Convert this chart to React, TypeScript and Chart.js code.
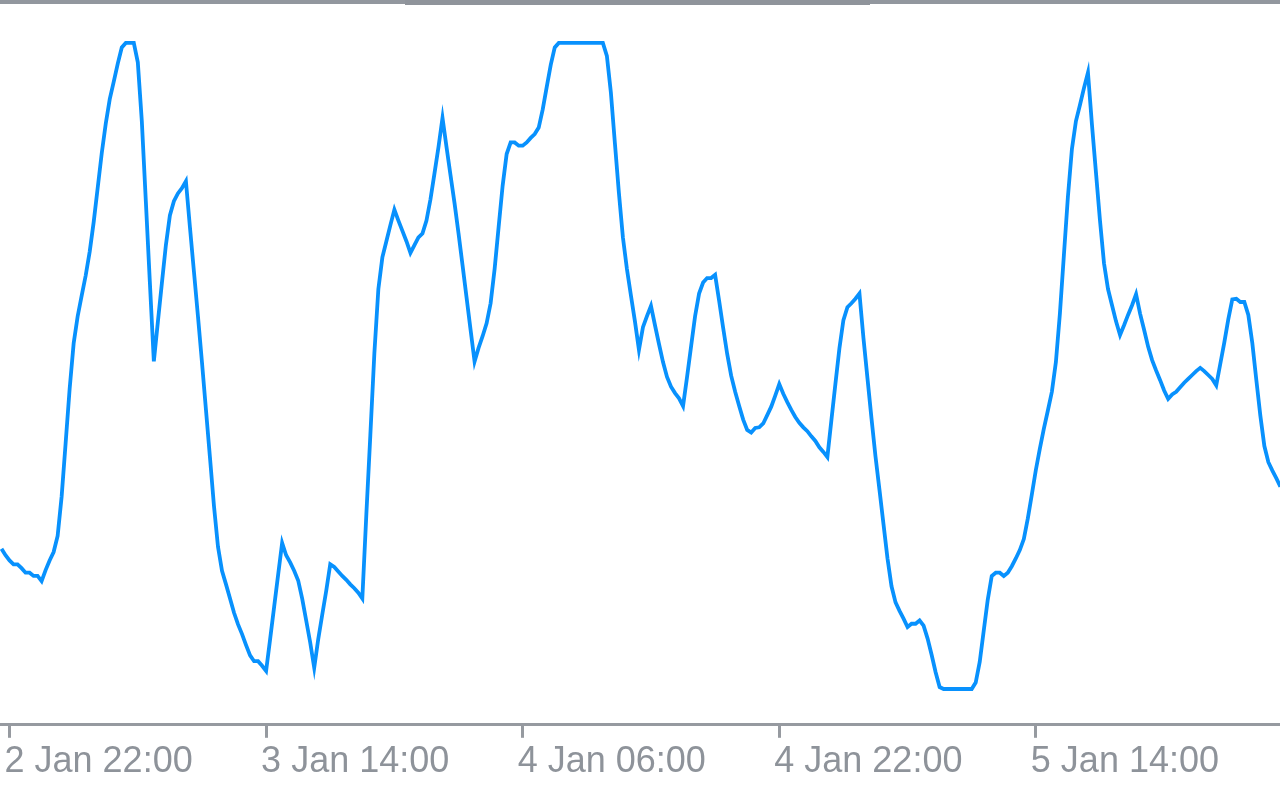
import React, { useEffect, useRef } from "react";
import { Chart, registerables } from "chart.js";

Chart.register(...registerables);

// Oscillator value per 15-minute bar (0..100)
const oscValues: number[] = [
  21.7, 20.7, 19.9, 19.3, 19.3, 18.7, 18.0, 18.0, 17.5, 17.5,
  16.7, 18.4, 19.9, 21.2, 23.7, 29.8, 38.1, 46.5, 53.5, 57.7,
  60.9, 64.0, 67.7, 72.3, 77.6, 82.9, 87.5, 91.3, 94.0, 96.8,
  99.3, 100, 100, 100, 97.0, 87.9, 75.5, 63.0, 50.7, 56.8,
  62.8, 68.7, 73.3, 75.5, 76.7, 77.5, 78.6, 71.5, 64.6, 57.7,
  50.6, 43.2, 35.8, 28.3, 22.0, 18.3, 16.2, 14.0, 11.8, 10.0,
  8.5, 6.8, 5.2, 4.3, 4.3, 3.6, 2.8, 7.7, 12.7, 17.7,
  22.6, 20.7, 19.6, 18.3, 16.8, 14.0, 10.6, 7.2, 3.3, 7.7,
  11.5, 15.2, 19.3, 18.9, 18.2, 17.5, 16.9, 16.2, 15.6, 14.9,
  14.0, 27.0, 39.3, 51.9, 61.9, 66.8, 69.3, 71.8, 74.2, 72.5,
  70.9, 69.3, 67.5, 68.7, 69.9, 70.5, 72.5, 75.8, 79.8, 83.9,
  88.4, 83.9, 79.5, 75.2, 70.5, 65.6, 60.6, 55.6, 50.7, 52.8,
  54.6, 56.6, 59.7, 65.0, 71.5, 77.9, 82.8, 84.6, 84.6, 84.1,
  84.1, 84.6, 85.3, 85.9, 86.9, 89.7, 93.2, 96.6, 99.3, 100,
  100, 100, 100, 100, 100, 100, 100, 100, 100, 100,
  100, 98.0, 92.3, 84.5, 76.8, 69.9, 65.0, 60.9, 56.9, 52.5,
  56.0, 57.7, 59.3, 56.3, 53.4, 50.6, 48.3, 46.8, 45.8, 45.0,
  43.8, 48.3, 53.0, 57.7, 61.2, 62.9, 63.6, 63.6, 64.1, 60.1,
  55.9, 51.9, 48.5, 46.0, 43.8, 41.7, 40.1, 39.7, 40.4, 40.5,
  41.1, 42.4, 43.7, 45.4, 47.2, 45.7, 44.4, 43.2, 42.1, 41.2,
  40.5, 39.9, 39.1, 38.4, 37.4, 36.7, 35.9, 41.6, 47.2, 52.7,
  57.1, 59.1, 59.7, 60.4, 61.2, 54.3, 48.1, 41.9, 36.0, 30.8,
  25.5, 20.2, 15.9, 13.4, 12.1, 10.9, 9.6, 10.1, 10.1, 10.6,
  9.8, 7.8, 5.3, 2.6, 0.3, 0, 0, 0, 0, 0,
  0, 0, 0, 1.0, 4.2, 9.0, 13.8, 17.5, 18.0, 18.0,
  17.5, 18.0, 19.0, 20.2, 21.5, 23.2, 26.4, 30.1, 33.9, 37.2,
  40.3, 43.1, 46.0, 50.6, 58.1, 67.2, 76.2, 83.6, 87.9, 90.4,
  93.0, 95.4, 87.3, 79.9, 72.5, 65.9, 61.9, 59.4, 56.9, 54.8,
  56.3, 57.9, 59.4, 61.1, 58.1, 55.6, 53.0, 50.9, 49.3, 47.8,
  46.2, 44.9, 45.6, 46.0, 46.7, 47.4, 48.0, 48.6, 49.2, 49.7,
  49.2, 48.6, 48.0, 47.0, 50.3, 53.6, 57.2, 60.3, 60.4, 59.9,
  59.9, 57.9, 53.5, 47.8, 42.3, 37.6, 35.1, 33.8, 32.6, 31.3,
];

// Bar indices where the time axis is labelled, and their labels
const tickBars: number[] = [2, 66, 130, 194, 258];
const tickLabels: string[] = [
  "2 Jan 22:00",
  "3 Jan 14:00",
  "4 Jan 06:00",
  "4 Jan 22:00",
  "5 Jan 14:00",
];

const LINE_COLOR = "#0891fd";
const AXIS_COLOR = "#969aa0";
const TEXT_COLOR = "#8e939a";

export default function App() {
  const canvasRef = useRef<HTMLCanvasElement | null>(null);

  useEffect(() => {
    document.body.style.margin = "0";
    const canvas = canvasRef.current;
    if (!canvas) return;
    const chart = new Chart(canvas, {
      type: "line",
      data: {
        datasets: [
          {
            data: oscValues.map((v, i) => ({ x: i, y: v })),
            borderColor: LINE_COLOR,
            borderWidth: 3.8,
            pointRadius: 0,
            tension: 0,
            fill: false,
          },
        ],
      },
      options: {
        animation: false,
        responsive: false,
        maintainAspectRatio: false,
        devicePixelRatio: 1,
        layout: { padding: { left: 0, right: 0, top: 0, bottom: 13 } },
        plugins: {
          legend: { display: false },
          tooltip: { enabled: false },
        },
        scales: {
          x: {
            type: "linear",
            position: "bottom",
            min: -0.375,
            max: 318.9,
            afterBuildTicks: (scale: any) => {
              scale.ticks = tickBars.map((v) => ({ value: v }));
            },
            border: { display: true, color: AXIS_COLOR, width: 3 },
            grid: {
              display: true,
              drawOnChartArea: false,
              drawTicks: true,
              tickLength: 13,
              tickWidth: 3,
              tickColor: AXIS_COLOR,
            },
            ticks: {
              autoSkip: false,
              maxRotation: 0,
              minRotation: 0,
              align: "start",
              labelOffset: -5,
              padding: 3,
              color: TEXT_COLOR,
              font: { family: "'Liberation Sans', Arial, sans-serif", size: 36 },
              callback: (value: any) => {
                const idx = tickBars.indexOf(Number(value));
                return idx >= 0 ? tickLabels[idx] : "";
              },
            },
          },
          y: {
            display: false,
            min: -5.54,
            max: 106.64,
          },
        },
      },
    });
    return () => chart.destroy();
  }, []);

  return (
    <div
      style={{
        position: "fixed",
        left: 0,
        top: 0,
        width: 1280,
        height: 800,
        background: "#ffffff",
        overflow: "hidden",
      }}
    >
      <canvas
        ref={canvasRef}
        width={1280}
        height={800}
        style={{ display: "block", width: 1280, height: 800 }}
      />
      <div
        style={{
          position: "absolute",
          left: 0,
          top: 0,
          width: 1280,
          height: 4,
          background: "#92979e",
        }}
      />
      <div
        style={{
          position: "absolute",
          left: 405,
          top: 0,
          width: 465,
          height: 5,
          background: "#8f949b",
        }}
      />
    </div>
  );
}
